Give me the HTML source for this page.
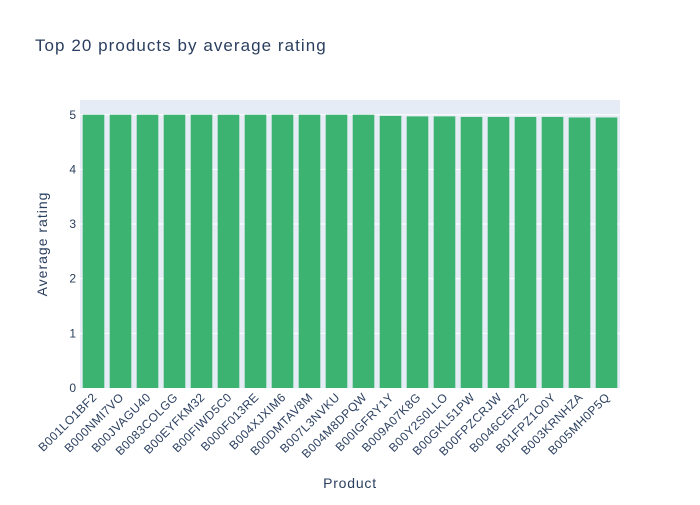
<!DOCTYPE html>
<html><head><meta charset="utf-8"><style>
body{margin:0;background:#fff;font-family:"Liberation Sans",Arial,sans-serif}
</style></head><body>
<svg id="chart" width="700" height="500" xmlns="http://www.w3.org/2000/svg">
<text x="35" y="51" font-size="17" letter-spacing="1.05" fill="#2a3f5f">Top 20 products by average rating</text>
<rect x="80" y="100" width="540" height="288" fill="#e5ecf6"/>
<g id="grid"></g><g id="bars"></g><g id="yt"></g><g id="xt"></g>
<text x="350" y="488" font-size="14" letter-spacing="0.8" fill="#2a3f5f" text-anchor="middle">Product</text>
<text transform="translate(47,244) rotate(-90)" font-size="14" letter-spacing="1" fill="#2a3f5f" text-anchor="middle">Average rating</text>
</svg>
<script>
const categories=["B001LO1BF2","B000NMI7VO","B00JVAGU40","B0083COLGG","B00EYFKM32","B00FIWD5C0","B000F013RE","B004XJXIM6","B00DMTAV8M","B007L3NVKU","B004M8DPQW","B00IGFRY1Y","B009A07K8G","B00Y2S0LLO","B00GKL51PW","B00FPZCRJW","B0046CERZ2","B01FPZ1O0Y","B003KRNHZA","B005MH0P5Q"];
const ratings=[5,5,5,5,5,5,5,5,5,5,5,4.98,4.97,4.97,4.96,4.96,4.96,4.96,4.95,4.95];
const yTicks=[0,1,2,3,4,5];
const NS="http://www.w3.org/2000/svg";
const x0=80,w=540,yBase=388,yMax=5.27,ph=288;
const band=w/categories.length;
const xPos=i=>x0+band*(i+0.5);
const yPos=v=>yBase-v/yMax*ph;
function mk(t,a){const e=document.createElementNS(NS,t);for(const k in a)e.setAttribute(k,a[k]);return e;}
yTicks.forEach(t=>{
 if(t>0){const l=mk("line",{x1:x0,x2:x0+w,y1:yPos(t),y2:yPos(t),stroke:"#fff","stroke-width":1});
 
 
 document.getElementById("grid").appendChild(l);}
 const tx=mk("text",{x:x0-4,y:yPos(t)+4,"font-size":12,fill:"#2a3f5f","text-anchor":"end"});
 tx.textContent=t;
 
 
 document.getElementById("yt").appendChild(tx);
});
categories.forEach((c,i)=>{
 const bw=band*0.8;
 const r=mk("rect",{x:xPos(i)-bw/2,y:yPos(ratings[i]),width:bw,height:yBase-yPos(ratings[i]),fill:"#3cb371"});
 
 
 document.getElementById("bars").appendChild(r);
 const t=mk("text",{transform:`translate(${xPos(i)+4},${yBase+10}) rotate(-45)`,"font-size":12,"letter-spacing":0.4,fill:"#2a3f5f","text-anchor":"end"});
 t.textContent=c;
 
 
 document.getElementById("xt").appendChild(t);
});
</script>
</body></html>
